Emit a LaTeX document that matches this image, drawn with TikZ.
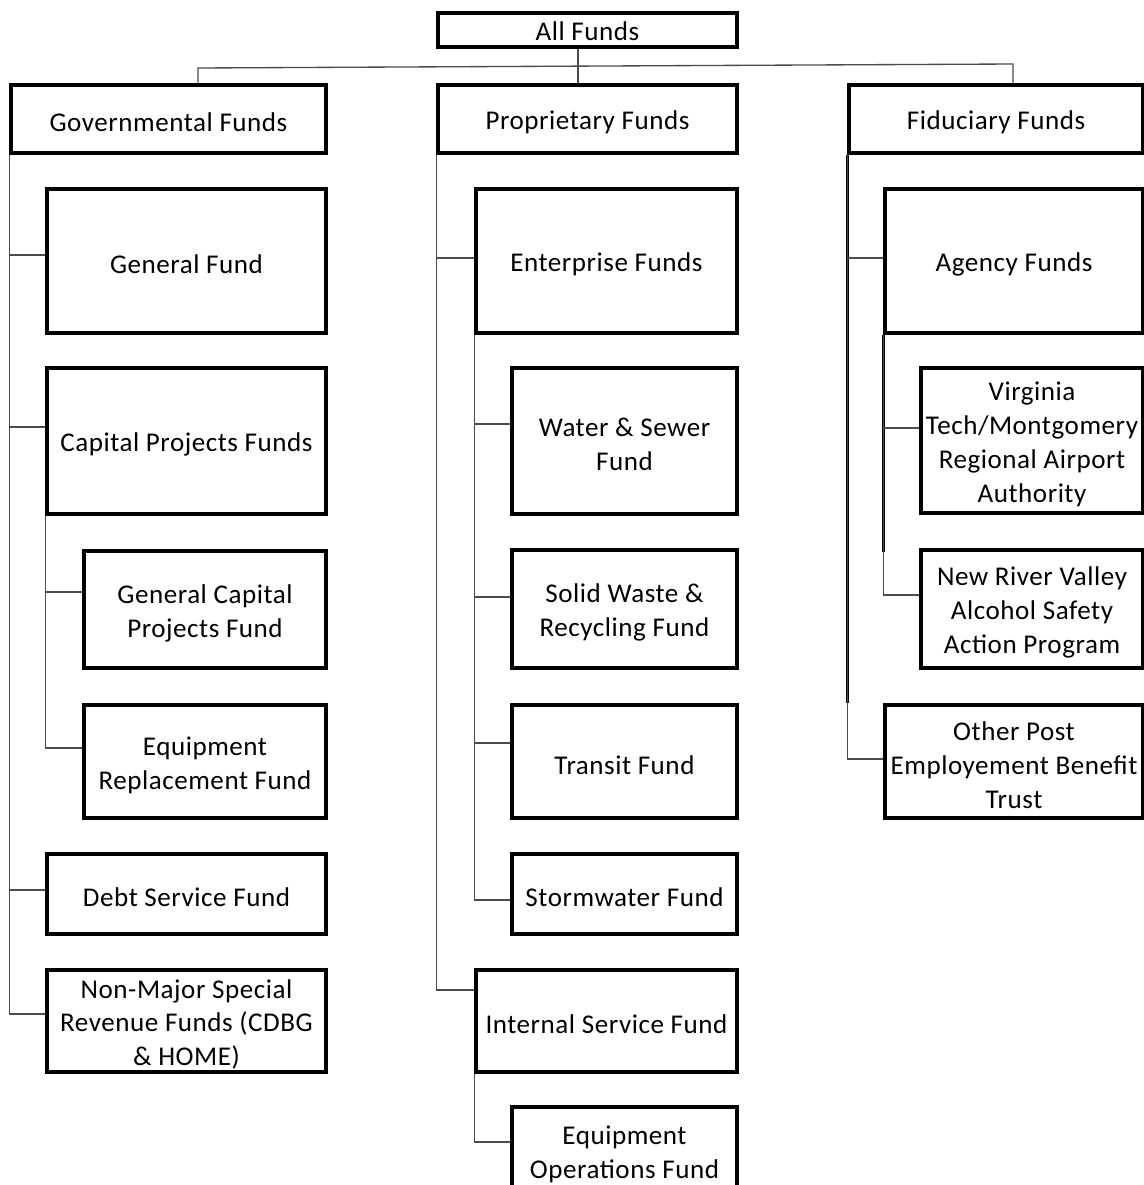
\documentclass[tikz,border=0pt]{standalone}
\usepackage{fontspec}
\setmainfont{Carlito}[LetterSpace=2]
\usetikzlibrary{calc}
\tikzset{
  fundnode/.style={draw=black, line width=2.5pt, rectangle, inner sep=0pt},
  fundtext/.style={align=center, inner sep=0pt, font=\fontsize{20.3}{25.5}\selectfont},
  conn/.style={draw=black!70, line width=1pt},
  tconn/.style={draw=black, line width=1.8pt},
}
\newcommand\fundbox[7][-2.6pt]{%
  \node[fundnode, minimum width={(#5-#3)*0.75pt}, minimum height={(#6-#4)*0.75pt}] (#2) at ({(#3+#5)/2},{(#4+#6)/2}) {};
  \node[fundtext] (#2t) at ([yshift=#1]#2.center) {#7};}
\begin{document}
\begin{tikzpicture}[x=0.75pt,y=-0.75pt]
\useasboundingbox (0,0) rectangle (1144,1185);
\clip (0,0) rectangle (1144,1185);
\fill[white] (0,0) rectangle (1144,1185);
% boxes
\fundbox[-0.6pt]{AllF}{438}{13}{737}{47}{All Funds}
\fundbox{Gov}{11}{85}{326}{153}{Governmental Funds}
\fundbox{Prop}{438}{85}{737}{153}{Proprietary Funds}
\fundbox{Fid}{849}{85}{1143}{153}{Fiduciary Funds}
\fundbox{GF}{47}{189}{326}{333}{General Fund}
\fundbox{CPF}{47}{368}{326}{514}{Capital Projects Funds}
\fundbox{GCPF}{84}{551}{326}{668}{General Capital\\Projects Fund}
\fundbox{ERF}{84}{705}{326}{818}{Equipment\\Replacement Fund}
\fundbox{DSF}{47}{854}{326}{934}{Debt Service Fund}
\fundbox{NMS}{47}{970}{326}{1072}{Non-Major Special\\Revenue Funds (CDBG\\\& HOME)}
\fundbox{EF}{476}{189}{737}{333}{Enterprise Funds}
\fundbox{WSF}{512}{368}{737}{514}{Water \& Sewer\\Fund}
\fundbox{SWRF}{512}{550}{737}{668}{Solid Waste \&\\Recycling Fund}
\fundbox{TF}{512}{705}{737}{818}{Transit Fund}
\fundbox{SF}{512}{854}{737}{934}{Stormwater Fund}
\fundbox{ISF}{476}{970}{737}{1072}{Internal Service Fund}
\fundbox{EOF}{512}{1107}{737}{1195}{Equipment\\Operations Fund}
\fundbox{AF}{885}{189}{1143}{333}{Agency Funds}
\fundbox{VT}{921}{368}{1143}{513}{Virginia\\Tech/Montgomery\\Regional Airport\\Authority}
\fundbox{NRV}{921}{550}{1143}{668}{New River Valley\\Alcohol Safety\\Action Program}
\fundbox{OPEB}{885}{705}{1143}{818}{Other Post\\Employement Benefit\\Trust}
% top connectors
\draw[conn] (Gov.north -| 198,0) -- (198,68) -- (1013,64) -- (Fid.north -| 1013,0);
\draw[conn] (AllF.south -| 578,0) -- (Prop.north -| 578,0);
% governmental
\draw[conn] (Gov.south west) |- (NMS.west |- 0,1014);
\draw[conn] (Gov.south west |- 0,255) -- (GF.west |- 0,255);
\draw[conn] (Gov.south west |- 0,427) -- (CPF.west |- 0,427);
\draw[conn] (Gov.south west |- 0,890) -- (DSF.west |- 0,890);
\draw[conn] (CPF.south west) |- (ERF.west |- 0,748);
\draw[conn] (CPF.south west |- 0,592) -- (GCPF.west |- 0,592);
% proprietary
\draw[conn] (Prop.south west) |- (ISF.west |- 0,990);
\draw[conn] (Prop.south west |- 0,258) -- (EF.west |- 0,258);
\draw[conn] (EF.south west) |- (SF.west |- 0,900);
\draw[conn] (EF.south west |- 0,424) -- (WSF.west |- 0,424);
\draw[conn] (EF.south west |- 0,597) -- (SWRF.west |- 0,597);
\draw[conn] (EF.south west |- 0,743) -- (TF.west |- 0,743);
\draw[conn] (ISF.south west) |- (EOF.west |- 0,1142);
% fiduciary
\draw[tconn] (Fid.south west) -- (Fid.south west |- OPEB.north);
\draw[conn] (Fid.south west) |- (OPEB.west |- 0,759);
\draw[conn] (Fid.south west |- 0,258) -- (AF.west |- 0,258);
\draw[tconn] (AF.south west) -- (AF.south west |- 0,552);
\draw[conn] (AF.south west) |- (NRV.west |- 0,595);
\draw[conn] (AF.south west |- 0,428) -- (VT.west |- 0,428);
\end{tikzpicture}
\end{document}
